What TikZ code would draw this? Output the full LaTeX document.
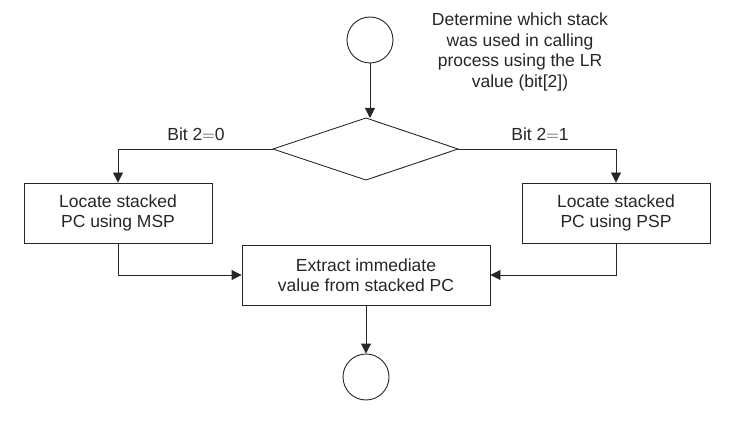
\documentclass[tikz,border=0pt]{standalone}
\usepackage{fontspec}
\setmainfont{Liberation Sans}
\usetikzlibrary{arrows.meta}
\begin{document}
\begin{tikzpicture}[x=1pt,y=-1pt,
  every node/.style={font=\fontsize{17.5}{20.5}\selectfont, text=black!85},
  line/.style={draw=black!85, line width=0.9pt},
  arr/.style={line, -{Triangle[length=10pt,width=10pt]}},
  box/.style={line, rectangle, inner sep=0pt, align=center},
  term/.style={line, circle, minimum size=46pt, inner sep=0pt}]
\useasboundingbox (0,0) rectangle (742,422);
\node[term] (start) at (370,40) {};
\coordinate (dtop) at (366,118);
\coordinate (dl) at (273,149);
\coordinate (dr) at (458,149);
\coordinate (dbot) at (366,180);
\path[line] (dl) -- (dtop) -- (dr) -- (dbot) -- cycle;
\node[box, minimum width=188pt, minimum height=60pt] (lb) at (118,213) {Locate stacked\\PC using MSP};
\node[box, minimum width=188pt, minimum height=60pt] (rb) at (616,213) {Locate stacked\\PC using PSP};
\node[box, minimum width=248pt, minimum height=60pt] (mb) at (366,275) {Extract immediate\\value from stacked PC};
\node[term] (stop) at (366,377) {};
\node[align=center] (note) at (520,52) {Determine which stack\\was used in calling\\process using the LR\\value (bit[2])};
\node (l0) at (196,134) {Bit 2${=}$0};
\node (l1) at (540,134) {Bit 2${=}$1};
\draw[arr] (start.south) -- (start.south |- dtop);
\draw[arr] (dl) -| (lb.north);
\draw[arr] (dr) -| (rb.north);
\draw[arr] (lb.south) |- (mb.west);
\draw[arr] (rb.south) |- (mb.east);
\draw[arr] (mb.south) -- (stop.north);
\end{tikzpicture}
\end{document}
